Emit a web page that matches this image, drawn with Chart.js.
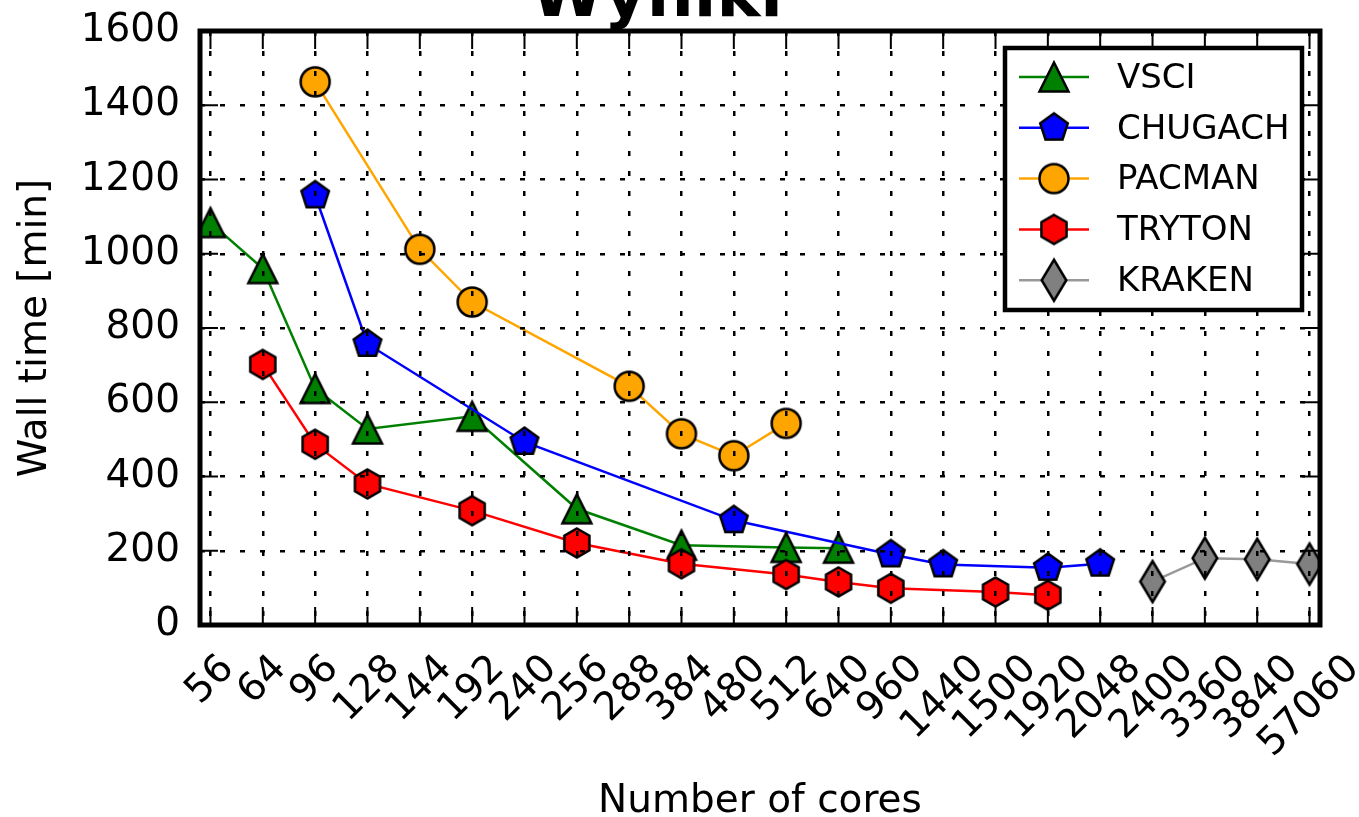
<!DOCTYPE html>
<html>
<head>
<meta charset="utf-8">
<script src="https://cdn.jsdelivr.net/npm/chart.js@4.4.0/dist/chart.umd.min.js"></script>
<style>
  html, body { margin: 0; padding: 0; background: #fff; }
</style>
</head>
<body>
<canvas id="my-chart" width="1359" height="817"></canvas>
<script>
'use strict';

// ******* DATA ********

let coreLabels = ['56', '64', '96', '128', '144', '192', '240', '256', '288', '384', '480',
  '512', '640', '960', '1440', '1500', '1920', '2048', '2400', '3360', '3840', '57060'];

// wall time [min] per core count, null = not measured
let vsciTimes = [1084, 960, 637, 528, null, 562, null, 313, null, 215, null,
  209, 207, null, null, null, null, null, null, null, null, null];
let chugachTimes = [null, null, 1157, 757, null, null, 493, null, null, null, 282,
  null, null, 190, 163, null, 154, 165, null, null, null, null];
let pacmanTimes = [null, null, 1463, null, 1012, 870, null, null, 643, 515, 456,
  543, null, null, null, null, null, null, null, null, null, null];
let trytonTimes = [null, 702, 487, 380, null, 308, null, 221, null, 165, null,
  136, 116, 99, null, 89, 80, null, null, null, null, null];
let krakenTimes = [null, null, null, null, null, null, null, null, null, null, null,
  null, null, null, null, null, null, null, 117, 180, 177, 164];

let yTickValues = [0, 200, 400, 600, 800, 1000, 1200, 1400, 1600];

let FONT = '"DejaVu Sans", "Liberation Sans", sans-serif';
Chart.defaults.font.family = FONT;
Chart.defaults.color = '#000';

// ******* MARKERS (matplotlib style) ********
function makeMarker(shape, fill, size) {
  let edge = 2.5;
  let w = size;
  let h = size;
  if (shape === 'thinDiamond') {
    h = size * 1.414;
    w = h * 0.6;
  }
  let c = document.createElement('canvas');
  c.width = Math.ceil(w + edge * 2 + 2);
  c.height = Math.ceil(h + edge * 2 + 2);
  let g = c.getContext('2d');
  g.translate(c.width / 2, c.height / 2);
  let r = size / 2;
  g.beginPath();
  if (shape === 'triangle') {
    g.moveTo(0, -r);
    g.lineTo(r, r);
    g.lineTo(-r, r);
  } else if (shape === 'circle') {
    g.arc(0, 0, r, 0, Math.PI * 2);
  } else if (shape === 'pentagon' || shape === 'hexagon') {
    let n = shape === 'pentagon' ? 5 : 6;
    for (let k = 0; k < n; k++) {
      let a = -Math.PI / 2 + k * 2 * Math.PI / n;
      if (k === 0) g.moveTo(r * Math.cos(a), r * Math.sin(a));
      else g.lineTo(r * Math.cos(a), r * Math.sin(a));
    }
  } else {
    g.moveTo(0, -h / 2);
    g.lineTo(w / 2, 0);
    g.lineTo(0, h / 2);
    g.lineTo(-w / 2, 0);
  }
  g.closePath();
  g.fillStyle = fill;
  g.fill();
  g.lineWidth = edge;
  g.lineJoin = 'miter';
  g.strokeStyle = '#000';
  g.stroke();
  return c;
}

function toPoints(values) {
  let pts = [];
  for (let i = 0; i < values.length; i++) {
    if (values[i] !== null) pts.push({ x: i, y: values[i] });
  }
  return pts;
}

function series(label, values, color, lineColor, shape, order) {
  return {
    label: label,
    data: toPoints(values),
    borderColor: lineColor,
    borderWidth: 2.5,
    pointStyle: makeMarker(shape, color, 29),
    pointRadius: 14,
    tension: 0,
    fill: false,
    order: order
  };
}

// ******* PLUGINS ********
let titlePlugin = {
  id: 'cutTitle',
  afterDraw(chart) {
    let c = chart.ctx;
    c.save();
    c.font = 'bold 66px ' + FONT;
    c.fillStyle = '#000';
    c.textAlign = 'center';
    c.textBaseline = 'alphabetic';
    c.fillText('Wyniki', 657, 16);
    c.restore();
  }
};

let framePlugin = {
  id: 'frame',
  afterDraw(chart) {
    let c = chart.ctx;
    let a = chart.chartArea;
    let xs = chart.scales.x;
    let ys = chart.scales.y;
    let len = 18;
    c.save();
    c.strokeStyle = '#000';
    c.lineWidth = 2;
    c.beginPath();
    for (let i = 0; i < coreLabels.length; i++) {
      let px = xs.getPixelForValue(i);
      c.moveTo(px, a.bottom); c.lineTo(px, a.bottom - len);
      c.moveTo(px, a.top); c.lineTo(px, a.top + len);
    }
    for (let v of yTickValues) {
      let py = ys.getPixelForValue(v);
      c.moveTo(a.left, py); c.lineTo(a.left + len, py);
      c.moveTo(a.right, py); c.lineTo(a.right - len, py);
    }
    c.stroke();
    c.lineWidth = 5;
    c.strokeRect(a.left, a.top, a.right - a.left, a.bottom - a.top);

    // rotated category labels, centred under the tick like matplotlib
    c.font = '39px ' + FONT;
    c.fillStyle = '#000';
    c.textAlign = 'center';
    c.textBaseline = 'middle';
    for (let i = 0; i < coreLabels.length; i++) {
      let w = c.measureText(coreLabels[i]).width;
      let side = (w + 45) * Math.SQRT1_2;
      let px = xs.getPixelForValue(i);
      c.save();
      c.translate(px, a.bottom + 22 + side / 2);
      c.rotate(-Math.PI / 4);
      c.fillText(coreLabels[i], 0, 0);
      c.restore();
    }
    c.restore();
  }
};

let boxLegendPlugin = {
  id: 'boxLegend',
  afterDraw(chart) {
    let c = chart.ctx;
    let a = chart.chartArea;
    let right = a.right - 18;
    let top = a.top + 17;
    let left = right - 297;
    let height = 262;
    c.save();
    c.fillStyle = '#fff';
    c.fillRect(left, top, right - left, height);
    c.lineWidth = 4.5;
    c.strokeStyle = '#000';
    c.strokeRect(left, top, right - left, height);
    c.font = '34px ' + FONT;
    c.textBaseline = 'middle';
    c.textAlign = 'left';
    chart.data.datasets.forEach((ds, i) => {
      let cy = top + 29 + i * 50.8;
      c.strokeStyle = ds.borderColor;
      c.lineWidth = 2.5;
      c.beginPath();
      c.moveTo(left + 14, cy);
      c.lineTo(left + 84, cy);
      c.stroke();
      let m = ds.pointStyle;
      c.drawImage(m, left + 49 - m.width / 2, cy - m.height / 2);
      c.fillStyle = '#000';
      c.fillText(ds.label, left + 112, cy + 2);
    });
    c.restore();
  }
};

// ******* CHART ********
let ctx = document.getElementById('my-chart');

let gridOpts = { color: '#000', lineWidth: 2.5, drawTicks: false, z: 1 };
let borderOpts = { display: false, dash: [5, 15] };

new Chart(ctx, { //eslint-disable-line
  type: 'line',
  data: {
    datasets: [
      series('VSCI', vsciTimes, '#008000', '#008000', 'triangle', 5),
      series('CHUGACH', chugachTimes, '#0000ff', '#0000ff', 'pentagon', 4),
      series('PACMAN', pacmanTimes, '#ffa500', '#ffa500', 'circle', 3),
      series('TRYTON', trytonTimes, '#ff0000', '#ff0000', 'hexagon', 2),
      series('KRAKEN', krakenTimes, '#808080', '#999999', 'thinDiamond', 1)
    ]
  },
  options: {
    responsive: false,
    animation: false,
    events: [],
    layout: { padding: { top: 31, right: 39, left: 0, bottom: 0 } },
    plugins: {
      legend: { display: false },
      tooltip: { enabled: false },
      title: { display: false }
    },
    scales: {
      x: {
        type: 'linear',
        min: -0.2,
        max: 21.2,
        afterBuildTicks(scale) {
          scale.ticks = coreLabels.map((l, i) => ({ value: i }));
        },
        afterFit(scale) {
          scale.height = 192;
          scale.paddingLeft = 0;
          scale.paddingRight = 0;
        },
        ticks: { display: false },
        grid: gridOpts,
        border: borderOpts,
        title: {
          display: true,
          text: 'Number of cores',
          color: '#000',
          font: { size: 39, lineHeight: 0.8 },
          padding: { top: 0, bottom: 0 }
        }
      },
      y: {
        min: 0,
        max: 1600,
        afterBuildTicks(scale) {
          scale.ticks = yTickValues.map(v => ({ value: v }));
        },
        afterFit(scale) {
          scale.width = 200;
          scale.paddingTop = 0;
          scale.paddingBottom = 0;
        },
        ticks: {
          color: '#000',
          font: { size: 39 },
          padding: 20,
          callback: v => String(v)
        },
        grid: gridOpts,
        border: borderOpts,
        title: {
          display: true,
          text: 'Wall time [min]',
          color: '#000',
          font: { size: 39 },
          padding: { top: 12, bottom: 0 }
        }
      }
    }
  },
  plugins: [titlePlugin, framePlugin, boxLegendPlugin]
});
</script>
</body>
</html>
